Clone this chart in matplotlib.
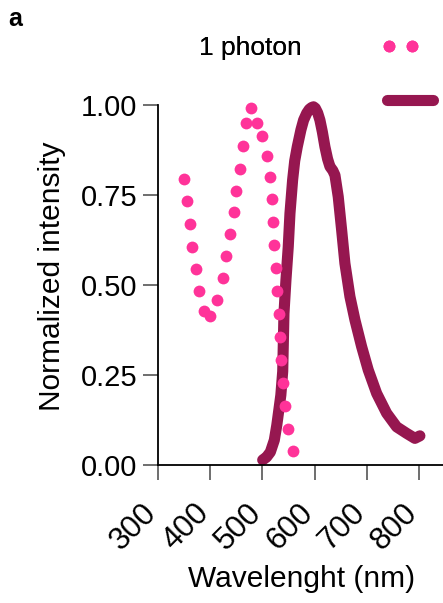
import matplotlib
matplotlib.use("Agg")
import matplotlib.pyplot as plt
import matplotlib.transforms as mtransforms
from matplotlib.lines import Line2D

plt.rcParams["font.family"] = ["Liberation Sans", "DejaVu Sans"]

# one-photon excitation spectrum (dots)
exc_wl = [350.4, 356.1, 360.7, 365.7, 372.8, 379.1, 388.1, 399.6, 413.6, 424.0,
          430.8, 437.9, 445.0, 450.0, 456.5, 463.4, 468.6, 478.7, 490.2, 499.8,
          508.8, 514.6, 518.4, 520.9, 522.8, 525.5, 528.0, 531.2, 533.7, 536.2,
          539.5, 543.3, 549.6, 559.2]
exc_int = [0.795, 0.733, 0.669, 0.606, 0.544, 0.482, 0.429, 0.415, 0.458, 0.519,
           0.581, 0.642, 0.704, 0.760, 0.823, 0.887, 0.950, 0.992, 0.950, 0.914,
           0.858, 0.800, 0.738, 0.674, 0.610, 0.547, 0.483, 0.419, 0.356, 0.292,
           0.229, 0.165, 0.101, 0.040]

# emission spectrum (thick line)
em_wl = [500.6, 508.0, 515.3, 522.9, 527.7, 531.6, 535.4, 539.0, 541.4, 545.2,
         549.6, 552.9, 558.0, 562.0, 566.9, 573.9, 579.0, 584.9, 590.0, 594.4,
         598.0, 601.5, 606.0, 610.3, 615.0, 619.9, 625.0, 629.5, 635.0, 639.1,
         645.4, 651.9, 658.2, 667.8, 677.4, 690.2, 702.9, 719.0, 738.1, 757.3,
         776.4, 792.3, 801.9]
em_int = [0.014, 0.022, 0.036, 0.069, 0.111, 0.153, 0.194, 0.260, 0.421, 0.514,
          0.606, 0.699, 0.792, 0.845, 0.884, 0.931, 0.958, 0.977, 0.988, 0.993,
          0.995, 0.991, 0.978, 0.958, 0.925, 0.884, 0.850, 0.829, 0.818, 0.805,
          0.745, 0.653, 0.560, 0.468, 0.403, 0.329, 0.264, 0.199, 0.144, 0.106,
          0.088, 0.074, 0.081]

x_ticks = [300, 400, 500, 600, 700, 800]
y_ticks = [0.0, 0.25, 0.5, 0.75, 1.0]

pink = "#ff3399"
wine = "#961750"

fig = plt.figure(figsize=(4.43, 6.03), dpi=100)
ax = fig.add_axes([158 / 443, 1 - 465 / 603, 287 / 443, 360 / 603])

ax.plot(em_wl, em_int, color=wine, lw=8, solid_capstyle="round",
        solid_joinstyle="round", clip_on=False, zorder=2)
ax.plot(exc_wl, exc_int, "o", color=pink, ms=8.5, mec="none", clip_on=False, zorder=3)

ax.set_xlim(300, 850)
ax.set_ylim(0, 1.0)
ax.set_xticks(x_ticks)
ax.set_yticks(y_ticks)
ax.set_yticklabels(["%.2f" % v for v in y_ticks])
ax.spines["top"].set_visible(False)
ax.spines["right"].set_visible(False)
for s in ["left", "bottom"]:
    ax.spines[s].set_linewidth(1.3)
ax.tick_params(length=10.8, width=1.2, color="#555555", labelsize=21)
ax.tick_params(axis="y", pad=4)
ax.tick_params(axis="x", pad=13, labelsize=22.5)
shift = mtransforms.ScaledTranslation(5 / 100, 0, fig.dpi_scale_trans)
for lab in ax.get_xticklabels():
    lab.set_rotation(45)
    lab.set_ha("right")
    lab.set_transform(lab.get_transform() + shift)

ax.set_xlabel("Wavelenght (nm)", fontsize=21.5, labelpad=6)
ax.set_ylabel("Normalized intensity", fontsize=21.5, labelpad=11, y=0.525)

h1 = Line2D([], [], ls="none", marker="o", color=pink, ms=8.5, mec="none")
h2 = Line2D([], [], color=wine, lw=8, solid_capstyle="round")
leg1 = fig.legend([h1], ["1 photon"], loc="center right", numpoints=2,
                  bbox_to_anchor=(420 / 443, 1 - 48 / 603), frameon=False,
                  markerfirst=False, handlelength=1.48, handletextpad=3.0,
                  borderpad=0, borderaxespad=0, fontsize=19)
fig.add_artist(leg1)
fig.legend([h2], [""], loc="center left", bbox_to_anchor=(387 / 443, 1 - 102 / 603),
           frameon=False, handlelength=1.75, handletextpad=0, borderpad=0,
           borderaxespad=0, fontsize=19)

fig.text(8 / 443, 1 - 19 / 603, "a", fontsize=18, fontweight="bold", va="center")

fig.savefig("out.png", dpi=100)
